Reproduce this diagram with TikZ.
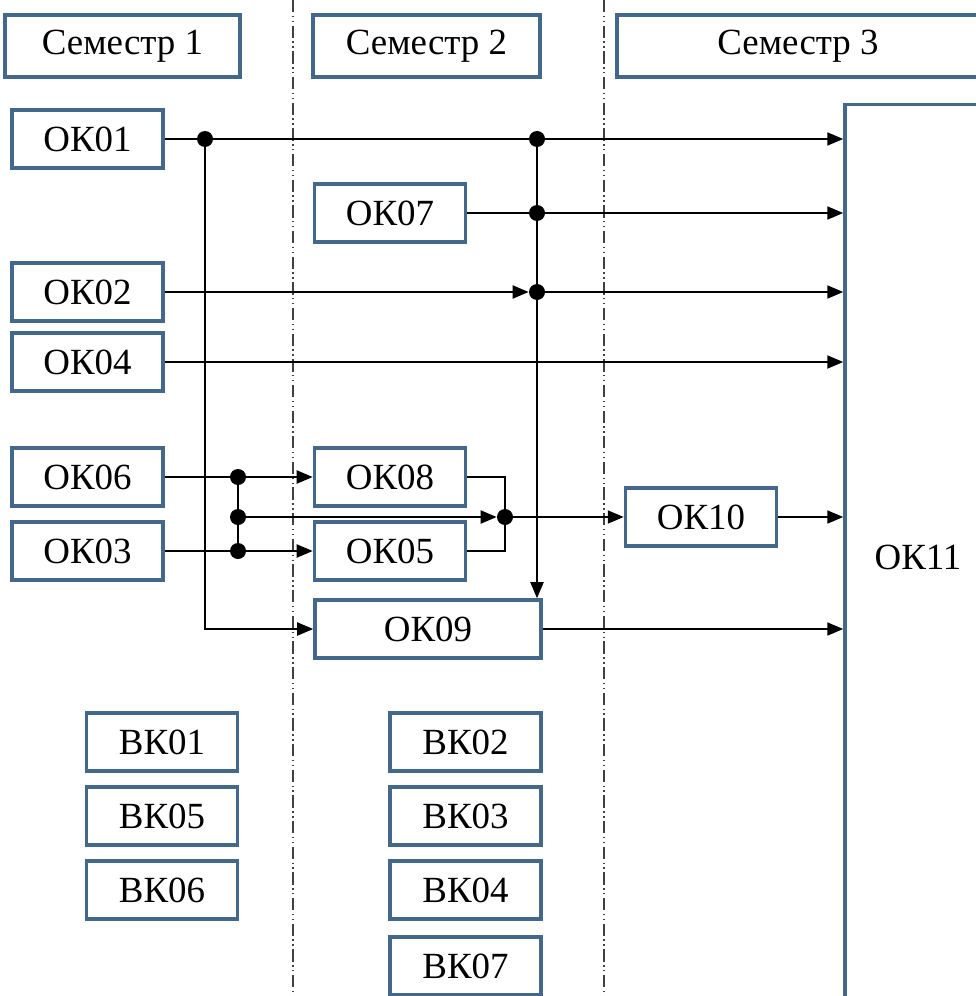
\documentclass[tikz,border=0pt]{standalone}
\usepackage{fontspec}
\setmainfont{Liberation Serif}
\usetikzlibrary{arrows.meta}
\definecolor{boxblue}{RGB}{68,104,140}
\tikzstyle{course}=[rectangle,
                    draw=boxblue,
                    line width=2pt,
                    minimum width=30.2mm,
                    minimum height=11.6mm,
                    inner sep=0pt,
                    font=\fontsize{21}{25}\selectfont]
\tikzstyle{wide}=[course,
                  minimum width=45.2mm]
\tikzstyle{term}=[course,
                  minimum width=47mm,
                  minimum height=12.4mm]
\tikzstyle{dot}=[circle,
                 fill,
                 minimum size=3.2mm,
                 inner sep=0pt]
\tikzstyle{link}=[line width=1.1pt]
\tikzstyle{strong}=[link,-{Triangle[length=3.2mm,width=2.6mm]}]
\tikzstyle{border}=[line width=0.7pt,
                    black!75,
                    dash pattern=on 7pt off 2pt on 0.8pt off 2pt on 0.8pt off 2pt]

\begin{document}
\begin{tikzpicture}[x=0.2mm,y=-0.2mm]
      \useasboundingbox (0,0) rectangle (975,996);

      \draw[border] (293,0) -- (293,996);
      \draw[border] (604,0) -- (604,996);

      \node[term] (term1) at (122.5,46) {Семестр 1};
      \node[term, minimum width=45.4mm] (term2) at (426.5,46) {Семестр 2};
      \node[term, minimum width=72.4mm] (term3) at (798,46) {Семестр 3};

      \node[course] (ok01) at (87.5,139) {ОК01};
      \node[course] (ok02) at (87.5,292) {ОК02};
      \node[course] (ok04) at (87.5,362) {ОК04};
      \node[course] (ok06) at (87.5,477) {ОК06};
      \node[course] (ok03) at (87.5,551) {ОК03};

      \node[course] (ok07) at (390,213) {ОК07};
      \node[course] (ok08) at (390,477) {ОК08};
      \node[course] (ok05) at (390,551) {ОК05};
      \node[wide]   (ok09) at (428,629) {ОК09};

      \node[course] (ok10) at (701,517) {ОК10};
      \node[course, minimum width=29.2mm, minimum height=181mm] (ok11) at (918,557) {ОК11};

      \node[course] (bk01) at (162,742) {ВК01};
      \node[course] (bk05) at (162,816) {ВК05};
      \node[course] (bk06) at (162,890) {ВК06};
      \node[course] (bk02) at (465.5,742) {ВК02};
      \node[course] (bk03) at (465.5,816) {ВК03};
      \node[course] (bk04) at (465.5,890) {ВК04};
      \node[course] (bk07) at (465.5,966) {ВК07};

      \node[dot] (a1) at (205,139) {};
      \node[dot] (d1) at (537,139) {};
      \node[dot] (d2) at (537,213) {};
      \node[dot] (d3) at (537,292) {};
      \node[dot] (b1) at (238,477) {};
      \node[dot] (b2) at (238,517) {};
      \node[dot] (b3) at (238,551) {};
      \node[dot] (m1) at (505,517) {};

      \draw[strong] (ok01) -- (ok01 -| ok11.west);
      \draw[strong] (a1.center) |- (ok09.west);
      \draw[strong] (d1.center) -- (d1.center |- ok09.north);
      \draw[strong] (ok07) -- (ok07 -| ok11.west);
      \draw[strong] (ok02) -- (d3);
      \draw[strong] (d3.center) -- (d3 -| ok11.west);
      \draw[strong] (ok04) -- (ok04 -| ok11.west);

      \draw[strong] (ok06) -- (ok08);
      \draw[strong] (ok03) -- (ok05);
      \draw[link] (b1.center) -- (b3.center);
      \draw[strong] (b2.center) -- (m1);
      \draw[link] (ok08.east) -| (m1.center) |- (ok05.east);
      \draw[strong] (m1) -- (ok10);
      \draw[strong] (ok10) -- (ok10 -| ok11.west);
      \draw[strong] (ok09) -- (ok09 -| ok11.west);
    \end{tikzpicture}
\end{document}
